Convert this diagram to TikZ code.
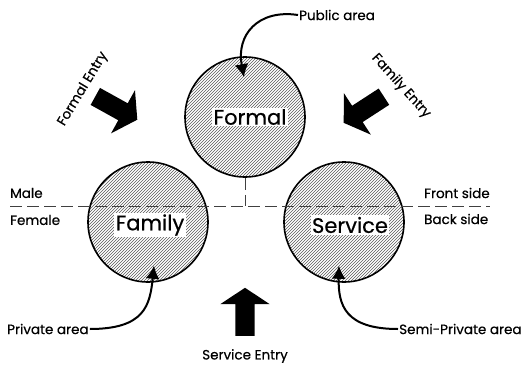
\documentclass[tikz,border=0pt]{standalone}
\usepackage{fontspec}
\setmainfont{Poppins}[FakeBold=0.5]
\usetikzlibrary{positioning,calc,patterns,arrows.meta,shapes.arrows}

\begin{document}
\begin{tikzpicture}[x=1pt,y=1pt,
	zone/.style={circle,draw,line width=1.6pt,minimum size=120pt,inner sep=0pt,
		pattern=north east lines,pattern color=black!65},
	zonename/.style={fill=white,inner sep=1.5pt,font=\fontsize{21}{24}\selectfont},
	tag/.style={inner sep=1pt,font=\fontsize{13.5}{16}\selectfont},
	entry/.style={single arrow,fill=black,inner xsep=0pt,inner ysep=9.5pt,minimum height=48pt,
		single arrow head extend=15pt,single arrow tip angle=113},
	pointer/.style={line width=2pt,-{Latex[length=13pt,width=14pt]}},
	divide/.style={dash pattern=on 12pt off 5pt,line width=0.8pt,gray!50!black}]
	\useasboundingbox (0,0) rectangle (524,365);
	%
	\node[zone] (formal) at (245,248) {};
	\node[zone] (family) at (148,143) {};
	\node[zone] (service) at (344,143) {};
	%
	\coordinate (w) at (10,159);
	\coordinate (e) at (490,159);
	\coordinate (m) at (245,159);
	\draw[divide] (w) -- (e);
	\draw[divide] (formal.south) -- (m);
	%
	\node[zonename] at ($(formal.center)+(5,0)$) {Formal};
	\node[zonename] at ($(family.center)+(2,-3)$) {Family};
	\node[zonename] at ($(service.center)+(6,-3)$) {Service};
	%
	\node[tag,anchor=west] (male) at (9,172) {Male};
	\node[tag,anchor=west] (female) at (9,145) {Female};
	\node[tag,anchor=west] (front) at (423,172) {Front side};
	\node[tag,anchor=west] (back) at (423,146) {Back side};
	%
	\node[tag,anchor=west] (public) at (298,350) {Public area};
	\node[tag,anchor=west] (private) at (6,36) {Private area};
	\node[tag,anchor=west] (semi) at (398,36) {Semi-Private area};
	\coordinate (t1) at ($(formal.north)+(-1,-21)$);
	\coordinate (t2) at ($(family.south)+(6,17)$);
	\coordinate (t3) at ($(service.south)+(-5,17)$);
	\draw[pointer] (public.west) .. controls (258,356) and (236,330) .. (t1);
	\draw[pointer] (private.east) .. controls (145,36) and (150,60) .. (t2);
	\draw[pointer] (semi.west) .. controls (345,36) and (338,60) .. (t3);
	%
	\node[entry,rotate=-29] (fe) at (113.5,258.5) {};
	\node[entry,rotate=213] (ye) at (366.5,257) {};
	\node[entry,rotate=90] (se) at (245,50) {};
	\node[tag,rotate=59] at (83,276) {Formal Entry};
	\node[tag,rotate=-48] at (401,279) {Family Entry};
	\node[tag,below=12pt of se.west] {Service Entry};
\end{tikzpicture}
\end{document}
